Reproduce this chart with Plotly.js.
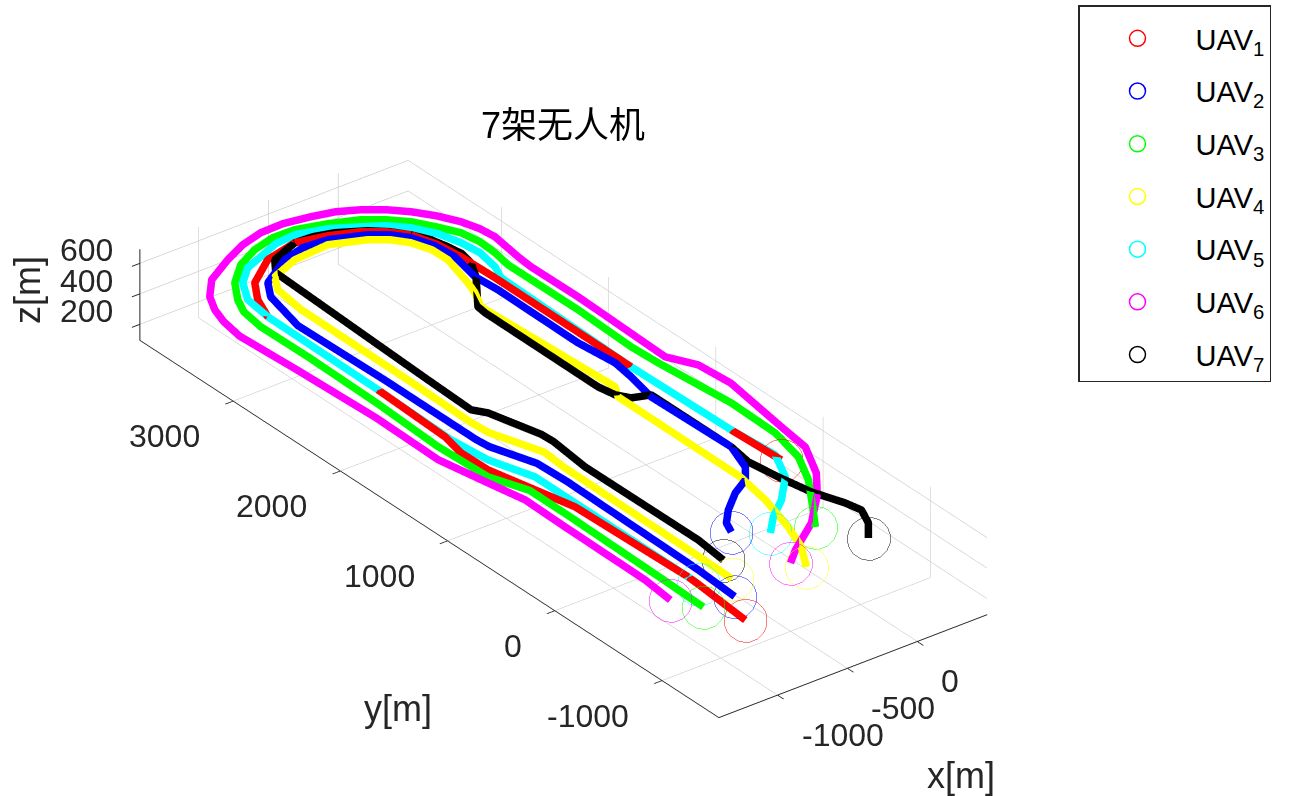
<!DOCTYPE html>
<html>
<head>
<meta charset="utf-8">
<script src="https://cdn.plot.ly/plotly-3.0.1.min.js"></script>
<style>
  html, body { margin: 0; padding: 0; background: #fff; }
  #chart { width: 1293px; height: 796px; }
</style>
</head>
<body>
<div id="chart"></div>
<script>
// trajectories, metres (x, y, z)
const uav1X = [-1085, -1050, -1044, -1069, -1132, -1206, -1210, -1171, -1148, -1139, -1067, -963, -745, -506, -309, -132, -20, 72, 125, 146, 154, 151, 166, 184];
const uav1Y = [-1340, -870, -755, 267, 559, 902, 1149, 1348, 2004, 3043, 3231, 3394, 3557, 3616, 3565, 3487, 3401, 3287, 3103, 2916, 2609, 1336, 422, -22];
const uav1Z = [530, 530, 530, 530, 530, 530, 530, 530, 530, 530,
               530, 530, 530, 530, 530, 530, 530, 530, 530, 530,
               530, 530, 530, 530];

const uav2X = [-970, -950, -930, -940, -1040, -1050, -1050, -1065, -988, -904, -669, -504, -336, -121, -22, 52, 105, 119, 71, 84, 78, 107, 82, 34, 49, -26, -116, -251, -400, -499, -539];
const uav2Y = [-1091, -726, 525, 792, 1109, 1218, 2059, 2859, 3213, 3349, 3498, 3544, 3529, 3436, 3360, 3260, 3105, 2936, 2687, 2490, 1736, 1427, 1245, 996, 268, 40, -78, -160, -289, -400, -498];
const uav2Z = [530, 530, 530, 530, 530, 530, 530, 530, 530, 530,
               530, 530, 530, 530, 530, 530, 530, 530, 530, 530,
               530, 530, 530, 530, 530, 530, 530, 530, 530, 530,
               530];

const uav3X = [-1184, -1175, -1160, -1160, -1254, -1270, -1245, -1235, -1240, -1213, -1157, -1053, -901, -735, -570, -416, -226, -49, 63, 162, 240, 312, 335, 327, 302, 307, 290, 301, 353, 344, 282, 168, 13, -126];
const uav3Y = [-1077, -689, 227, 573, 839, 1293, 1887, 2533, 2977, 3171, 3300, 3463, 3605, 3692, 3738, 3734, 3673, 3595, 3509, 3404, 3273, 3132, 2985, 2834, 2681, 2033, 1516, 1278, 665, 242, -54, -296, -535, -744];
const uav3Z = [530, 530, 530, 530, 530, 530, 530, 530, 530, 530,
               530, 530, 530, 530, 530, 530, 530, 530, 530, 530,
               530, 530, 530, 530, 530, 530, 530, 530, 530, 530,
               530, 530, 530, 530];

const uav4X = [-860, -855, -845, -830, -945, -955, -945, -940, -908, -831, -623, -371, -156, -57, 17, 63, 66, -3, -40, -110, -59, -115, -115, -118, -164, -248, -327, -443];
const uav4Y = [-922, -609, 663, 867, 1236, 1395, 1980, 2992, 3252, 3379, 3463, 3484, 3391, 3315, 3215, 3079, 2934, 2657, 2543, 2396, 1211, 1110, 924, -33, -327, -650, -875, -1073];
const uav4Z = [530, 530, 530, 530, 530, 530, 530, 530, 530, 530,
               530, 530, 530, 530, 530, 530, 530, 530, 530, 530,
               530, 530, 530, 530, 530, 530, 530, 530];

const uav5X = [-1047, -1044, -1042, -1042, -1137, -1165, -1148, -1139, -1112, -1017, -891, -756, -598, -450, -260, -98, 22, 121, 201, 243, 259, 230, 181, 151, 166, 192, 85, -92, -246, -370];
const uav5Y = [-853, -755, 303, 676, 992, 1300, 2004, 3043, 3265, 3436, 3554, 3608, 3673, 3689, 3628, 3532, 3455, 3350, 3203, 3042, 2886, 2708, 2588, 1336, 422, 44, -189, -383, -508, -642];
const uav5Z = [530, 530, 530, 530, 530, 530, 530, 530, 530, 530,
               530, 530, 530, 530, 530, 530, 530, 530, 530, 530,
               530, 530, 530, 530, 530, 530, 530, 530, 530, 530];

const uav6X = [-1284, -1259, -1253, -1246, -1296, -1360, -1350, -1375, -1400, -1372, -1330, -1262, -1136, -925, -754, -590, -429, -254, -107, 20, 133, 232, 317, 388, 425, 437, 403, 392, 397, 374, 467, 488, 413, 382, 252, 104, -116, -375, -487];
const uav6Y = [-900, -633, 122, 503, 785, 1165, 1761, 2461, 2966, 3150, 3289, 3424, 3570, 3695, 3778, 3824, 3829, 3795, 3754, 3685, 3599, 3494, 3372, 3231, 3102, 2978, 2718, 2583, 2150, 1308, 1122, 845, 276, 12, -260, -462, -694, -882, -982];
const uav6Z = [530, 530, 530, 530, 530, 530, 530, 530, 530, 530,
               530, 530, 530, 530, 530, 530, 530, 530, 530, 530,
               530, 530, 530, 530, 530, 530, 530, 530, 530, 530,
               530, 530, 530, 530, 530, 530, 530, 530, 530];

const uav7X = [-769, -743, -748, -715, -720, -812, -867, -854, -799, -714, -506, -383, -256, -94, -1, 72, 128, 156, 171, 149, 75, -124, -133, -136, -114, -63, 48, 49, 22, 53, 98, 175, 199, 141, 37];
const uav7Y = [-723, -456, 593, 930, 1038, 1416, 1502, 1921, 3412, 3532, 3616, 3608, 3568, 3472, 3387, 3287, 3173, 3050, 2939, 2827, 2683, 2406, 2328, 1269, 1138, 1056, 1014, 268, 74, -165, -414, -631, -750, -891, -1026];
const uav7Z = [530, 530, 530, 530, 530, 530, 530, 530, 530, 530,
               530, 530, 530, 530, 530, 530, 530, 530, 530, 530,
               530, 530, 530, 530, 530, 530, 530, 530, 530, 530,
               530, 530, 530, 530, 530];

const uavNames = ['UAV<sub>1</sub>', 'UAV<sub>2</sub>', 'UAV<sub>3</sub>', 'UAV<sub>4</sub>', 'UAV<sub>5</sub>', 'UAV<sub>6</sub>', 'UAV<sub>7</sub>'];
const uavColors = ['#ff0000', '#0000ff', '#00ff00', '#ffff00', '#00ffff', '#ff00ff', '#000000'];

const xTicks = [-1000, -500, 0];
const yTicks = [-1000, 0, 1000, 2000, 3000];
const zTicks = [200, 400, 600];

const xRange = [-1420, 500];
const yRange = [-1530, 3870];
const zRange = [95, 692];

const paths = [
    [uav1X, uav1Y, uav1Z], [uav2X, uav2Y, uav2Z], [uav3X, uav3Y, uav3Z], [uav4X, uav4Y, uav4Z],
    [uav5X, uav5Y, uav5Z], [uav6X, uav6Y, uav6Z], [uav7X, uav7Y, uav7Z]
];

const font = 'Liberation Sans, Arial, sans-serif';
const textColor = '#262626';

let traces = [];

// lines first, no legend
for (let i = 0; i < paths.length; i++) {
    traces.push({
        x: paths[i][0],
        y: paths[i][1],
        z: paths[i][2],
        type: 'scatter3d',
        mode: 'lines',
        line: {color: uavColors[i], width: 15},
        legendgroup: 'g' + i,
        showlegend: false,
        hoverinfo: 'skip'
    });
}

// start / end circles, these carry the legend
for (let i = 0; i < paths.length; i++) {
    const p = paths[i];
    const n = p[0].length - 1;
    traces.push({
        x: [p[0][0], p[0][n]],
        y: [p[1][0], p[1][n]],
        z: [p[2][0], p[2][n]],
        type: 'scatter3d',
        mode: 'markers',
        name: uavNames[i],
        legendgroup: 'g' + i,
        marker: {symbol: 'circle', size: 25, color: 'rgba(255,255,255,0)',
                 line: {width: 1.5, color: uavColors[i]}}
    });
}

function axisStyle(range, ticks) {
    return {
        range: range,
        autorange: false,
        tickmode: 'array',
        tickvals: ticks,
        showticklabels: false,
        title: {text: ''},
        showgrid: true,
        gridcolor: 'rgb(205,205,205)',
        gridwidth: 1.5,
        showline: true,
        linecolor: textColor,
        linewidth: 2,
        ticks: 'outside',
        ticklen: 10,
        tickwidth: 2,
        tickcolor: textColor,
        zeroline: false,
        showbackground: false,
        showspikes: false
    };
}

// tick labels kept flat like the original, pinned to the axis edges
const tickFont = {family: font, size: 32, color: textColor};
let sceneNotes = [];
xTicks.forEach(v => sceneNotes.push({x: v, y: yRange[0], z: zRange[0], text: String(v), showarrow: false,
    xanchor: 'left', yanchor: 'middle', xshift: 22, yshift: -40, font: tickFont}));
yTicks.forEach(v => sceneNotes.push({x: xRange[0], y: v, z: zRange[0], text: String(v), showarrow: false,
    xanchor: 'right', yanchor: 'middle', xshift: -31, yshift: -35, font: tickFont}));
zTicks.forEach(v => sceneNotes.push({x: xRange[0], y: yRange[1], z: v, text: String(v), showarrow: false,
    xanchor: 'right', yanchor: 'middle', xshift: -25, yshift: 13, font: tickFont}));

const d = 2.0;
const k = 1.3065;

const layout = {
    width: 1293,
    height: 796,
    margin: {l: 0, r: 0, t: 0, b: 0},
    paper_bgcolor: '#ffffff',
    title: {
        text: '7架无人机',
        font: {family: 'Liberation Sans, Noto Sans CJK SC, sans-serif', size: 36, color: '#000000'},
        x: 563 / 1293, y: 1 - 125 / 796, xanchor: 'center', yanchor: 'middle'
    },
    showlegend: true,
    legend: {
        x: 1078 / 1293, y: 1 - 5 / 796, xanchor: 'left', yanchor: 'top',
        bgcolor: '#ffffff', bordercolor: textColor, borderwidth: 1.5,
        font: {family: font, size: 29, color: '#000000'},
        title: {text: '&nbsp;', font: {size: 5}},
        tracegroupgap: 12,
        itemwidth: 106
    },
    scene: {
        domain: {x: [0, 0.8716], y: [0, 0.9146]},
        aspectmode: 'manual',
        aspectratio: {x: 0.711 * k, y: 2.0 * k, z: 0.221 * k},
        bgcolor: '#ffffff',
        camera: {
            eye: {x: -0.5272 * d, y: -0.6871 * d, z: 0.5 * d},
            up: {x: 0, y: 0, z: 1},
            center: {x: 0, y: 0, z: 0},
            projection: {type: 'orthographic'}
        },
        xaxis: axisStyle(xRange, xTicks),
        yaxis: axisStyle(yRange, yTicks),
        zaxis: axisStyle(zRange, zTicks),
        annotations: sceneNotes
    },
    annotations: [
        {text: 'x[m]', x: 961 / 1293, y: 1 - 775 / 796, xref: 'paper', yref: 'paper', showarrow: false,
         xanchor: 'center', yanchor: 'middle', font: {family: font, size: 36, color: textColor}},
        {text: 'y[m]', x: 398 / 1293, y: 1 - 708 / 796, xref: 'paper', yref: 'paper', showarrow: false,
         xanchor: 'center', yanchor: 'middle', font: {family: font, size: 36, color: textColor}},
        {text: 'z[m]', x: 27 / 1293, y: 1 - 290 / 796, xref: 'paper', yref: 'paper', showarrow: false,
         xanchor: 'center', yanchor: 'middle', textangle: -90, font: {family: font, size: 36, color: textColor}}
    ]
};

Plotly.newPlot('chart', traces, layout, {displayModeBar: false});
</script>
</body>
</html>
